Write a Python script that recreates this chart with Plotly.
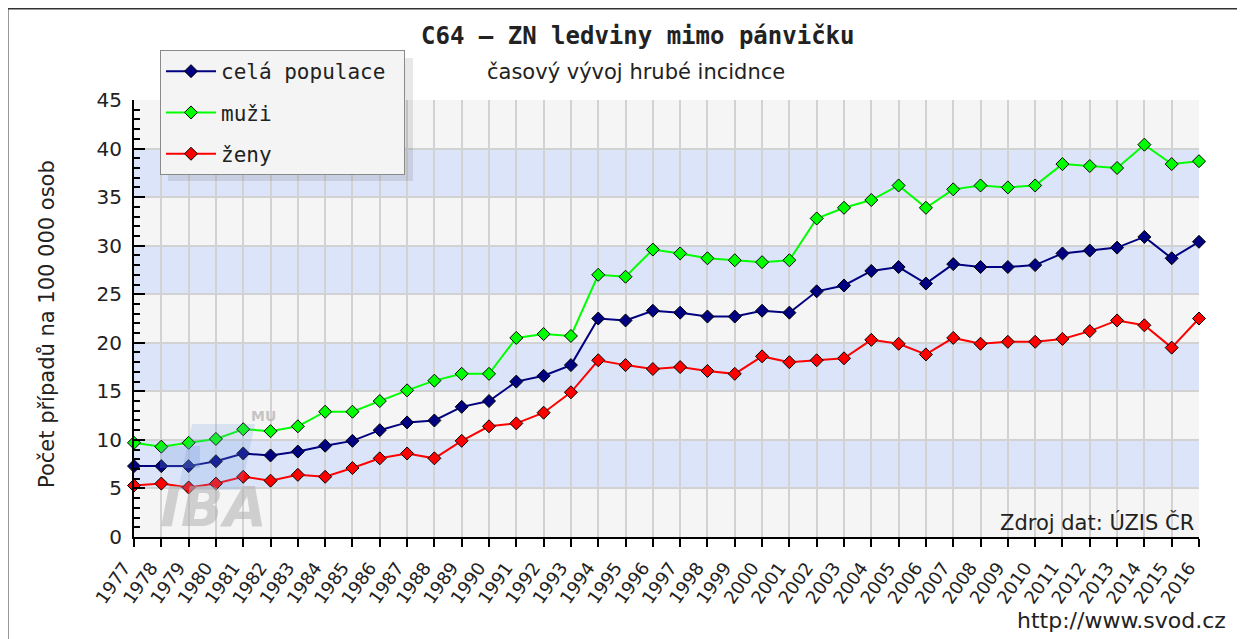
import plotly.graph_objects as go

years = list(range(1977, 2017))
cela_populace = [7.3, 7.3, 7.3, 7.8, 8.6, 8.4, 8.8, 9.4, 9.9, 11.0,
                 11.8, 12.0, 13.4, 14.0, 16.0, 16.6, 17.7, 22.5, 22.3, 23.3,
                 23.1, 22.7, 22.7, 23.3, 23.1, 25.3, 25.9, 27.4, 27.8, 26.1,
                 28.1, 27.8, 27.8, 28.0, 29.2, 29.5, 29.8, 30.9, 28.7, 30.4]
muzi = [9.7, 9.3, 9.7, 10.1, 11.1, 10.9, 11.4, 12.9, 12.9, 14.0,
        15.1, 16.1, 16.8, 16.8, 20.5, 20.9, 20.7, 27.0, 26.8, 29.6,
        29.2, 28.7, 28.5, 28.3, 28.5, 32.8, 33.9, 34.7, 36.2, 33.9,
        35.8, 36.2, 36.0, 36.2, 38.4, 38.2, 38.0, 40.4, 38.4, 38.7]
zeny = [5.3, 5.5, 5.1, 5.5, 6.2, 5.8, 6.4, 6.2, 7.1, 8.1,
        8.6, 8.1, 9.9, 11.4, 11.7, 12.8, 14.9, 18.2, 17.7, 17.3,
        17.5, 17.1, 16.8, 18.6, 18.0, 18.2, 18.4, 20.3, 19.9, 18.8,
        20.5, 19.9, 20.1, 20.1, 20.4, 21.2, 22.3, 21.8, 19.5, 22.5]

series = [("celá populace\u00a0", cela_populace, "#000080"),
          ("muži", muzi, "#00ff00"),
          ("ženy", zeny, "#ff0000")]

# plot area in page pixels; the page body adds an 8px margin
OFF = 8
L, R, T, B = 134, 1199, 100, 537
W, H = R - L, B - T
def px(x): return (x - L) / W
def py(y): return (B - y) / H

fig = go.Figure()

for i, (name, vals, color) in enumerate(series):
    fig.add_trace(go.Scatter(
        x=years, y=vals, name=name, mode="lines+markers",
        line=dict(color=color, width=2),
        marker=dict(symbol="diamond", size=10, color=color,
                    line=dict(color="black", width=1)),
        legendgroup=f"g{i}", cliponaxis=False,
    ))

shapes = []
# alternating blue bands
for y0 in [5, 15, 25, 35]:
    shapes.append(dict(type="rect", xref="paper", yref="y", x0=0, x1=1,
                       y0=y0, y1=y0 + 5, fillcolor="#dce4fa",
                       line=dict(width=0), layer="below"))
# watermark logo blocks
shapes.append(dict(type="path", xref="paper", yref="paper",
                   path=f"M {px(178)},{py(490)} L {px(192)},{py(424)} L {px(255)},{py(424)} L {px(241)},{py(490)} Z",
                   fillcolor="rgba(120,160,225,0.22)", line=dict(width=0), layer="above"))
shapes.append(dict(type="rect", xref="paper", yref="paper",
                   x0=px(160), x1=px(200), y0=py(468), y1=py(446),
                   fillcolor="rgba(110,150,215,0.25)", line=dict(width=0), layer="above"))
# legend shadow
shapes.append(dict(type="rect", xref="paper", yref="paper",
                   x0=px(168), x1=px(413), y0=py(181), y1=py(58),
                   fillcolor="rgba(0,0,0,0.09)", line=dict(width=0), layer="above"))
# outer frame (top and left)
shapes.append(dict(type="line", xref="paper", yref="paper",
                   x0=px(7), x1=px(1250), y0=py(8), y1=py(8),
                   line=dict(color="#333333", width=3)))
shapes.append(dict(type="line", xref="paper", yref="paper",
                   x0=px(7), x1=px(7), y0=py(8), y1=py(645),
                   line=dict(color="#333333", width=3)))

def note(text, x, y, size, family="DejaVu Sans", **kw):
    d = dict(text=text, x=px(x), y=py(y), xref="paper", yref="paper",
             showarrow=False, xanchor="center", yanchor="middle",
             font=dict(family=family, size=size, color="#222222"))
    d.update(kw)
    return d

annotations = [
    note("<b>C64 – ZN ledviny mimo pánvičku</b>", 637, 36, 24,
         family="DejaVu Sans Mono"),
    note("časový vývoj hrubé incidnce", 636, 72, 21),
    note("Počet případů na 100 000 osob", 47, 324, 21, textangle=-90),
    note("Zdroj dat: ÚZIS ČR", 1196, 522, 21, xanchor="right"),
    note("http://www.svod.cz", 1228, 620, 22, xanchor="right"),
    note("<b><i>IBA</i></b>", 213, 506, 56),
    note("<b>MU</b>", 263, 416, 14),
]
annotations[-2]["font"]["color"] = "rgba(175,175,175,0.55)"
annotations[-1]["font"]["color"] = "rgba(175,175,175,0.7)"

fig.update_layout(
    width=1245, height=639,
    margin=dict(l=L - OFF, r=1245 - (R - OFF), t=T - OFF, b=639 - (B - OFF)),
    paper_bgcolor="white", plot_bgcolor="#f5f5f5",
    font=dict(family="DejaVu Sans", color="#222222"),
    shapes=shapes, annotations=annotations,
    legend=dict(x=px(160), y=py(50), xanchor="left", yanchor="top",
                bgcolor="#f4f4f4", bordercolor="#8a8a8a", borderwidth=1,
                font=dict(family="DejaVu Sans Mono", size=21, color="#222222"),
                tracegroupgap=11, itemwidth=50),
    xaxis=dict(range=[1977, 2016], tickmode="array", tickvals=years,
               ticktext=[str(y) for y in years], tickangle=-55,
               ticks="outside", ticklen=8, tickwidth=2, tickcolor="black",
               showline=True, linecolor="black", linewidth=2,
               showgrid=True, gridcolor="#d2d2d2", gridwidth=2,
               tickfont=dict(size=18, color="#222222"), zeroline=False,
               ticklabelstandoff=3, ticklabelshift=-10),
    yaxis=dict(range=[0, 45], dtick=5, ticks="inside", ticklen=11,
               tickwidth=2, tickcolor="black",
               minor=dict(dtick=1, ticks="inside", ticklen=6, tickwidth=2,
                          tickcolor="black", showgrid=False),
               showline=True, linecolor="black", linewidth=2,
               showgrid=True, gridcolor="#d2d2d2", gridwidth=2,
               tickfont=dict(size=20, color="#222222"), zeroline=False,
               ticklabelstandoff=6),
)

fig.write_html("out.html")
